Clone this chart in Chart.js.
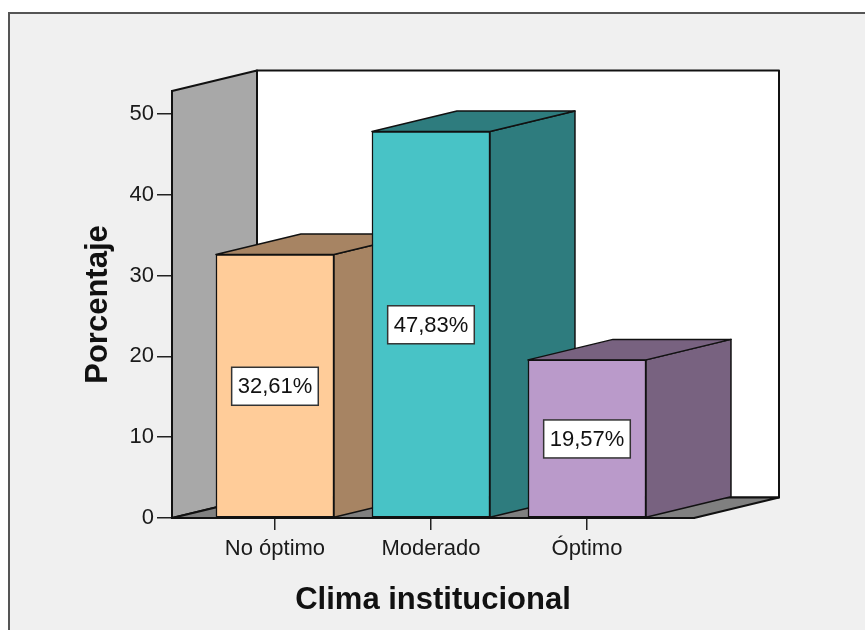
<!DOCTYPE html>
<html>
<head>
<meta charset="utf-8">
<script src="https://cdn.jsdelivr.net/npm/chart.js@4.4.1/dist/chart.umd.min.js"></script>
<style>
  html, body { margin: 0; padding: 0; background: #ffffff; }
  canvas { display: block; }
</style>
</head>
<body>
<canvas id="chart" width="865" height="630"></canvas>
<script>
// Distribución del clima institucional (%)
const categories = ['No óptimo', 'Moderado', 'Óptimo'];
const percentages = [32.61, 47.83, 19.57];
const yTicks = [0, 10, 20, 30, 40, 50];
const frontColors = ['#FFCC99', '#48C3C6', '#BA9ACA'];
const sideColors = ['#A78463', '#2E7C7E', '#786280'];

const FONT = '"Liberation Sans", Arial, Helvetica, sans-serif';
const DEPTH_X = 85;      // oblique depth of the 3D box, horizontal
const DEPTH_Y = -20.5;   // oblique depth of the 3D box, vertical
const EDGE = '#111111';

function poly(ctx, pts, fill) {
  ctx.beginPath();
  ctx.moveTo(pts[0][0], pts[0][1]);
  for (let i = 1; i < pts.length; i++) ctx.lineTo(pts[i][0], pts[i][1]);
  ctx.closePath();
  if (fill) { ctx.fillStyle = fill; ctx.fill(); }
  ctx.stroke();
}

const box3d = {
  id: 'box3d',
  beforeDraw(chart) {
    const ctx = chart.ctx;
    const W = chart.width, H = chart.height;
    ctx.save();
    // page + panel frame
    ctx.fillStyle = '#ffffff';
    ctx.fillRect(0, 0, W, H);
    ctx.fillStyle = '#f0f0f0';
    ctx.fillRect(10, 14, W - 10, H - 14);
    ctx.strokeStyle = '#555555';
    ctx.lineWidth = 2;
    ctx.beginPath();
    ctx.moveTo(9, H);
    ctx.lineTo(9, 13);
    ctx.lineTo(W, 13);
    ctx.stroke();

    // walls and floor of the plot box
    const a = chart.chartArea;
    const L = a.left, R = a.right, T = a.top, B = a.bottom;
    ctx.strokeStyle = EDGE;
    ctx.lineWidth = 2;
    ctx.lineJoin = 'round';
    // back wall
    poly(ctx, [[L + DEPTH_X, T + DEPTH_Y], [R + DEPTH_X, T + DEPTH_Y], [R + DEPTH_X, B + DEPTH_Y], [L + DEPTH_X, B + DEPTH_Y]], '#ffffff');
    // left wall
    poly(ctx, [[L, T], [L + DEPTH_X, T + DEPTH_Y], [L + DEPTH_X, B + DEPTH_Y], [L, B]], '#a8a8a8');
    // floor
    poly(ctx, [[L, B], [L + DEPTH_X, B + DEPTH_Y], [R + DEPTH_X, B + DEPTH_Y], [R, B]], '#808080');
    ctx.restore();
  },
  beforeDatasetsDraw(chart) {
    const ctx = chart.ctx;
    const meta = chart.getDatasetMeta(0);
    ctx.save();
    ctx.strokeStyle = EDGE;
    ctx.lineWidth = 1.5;
    ctx.lineJoin = 'round';
    meta.data.forEach((bar, i) => {
      const p = bar.getProps(['x', 'y', 'base', 'width'], true);
      const xl = p.x - p.width / 2, xr = p.x + p.width / 2;
      const yt = p.y, yb = p.base;
      // right side face
      poly(ctx, [[xr, yt], [xr + DEPTH_X, yt + DEPTH_Y], [xr + DEPTH_X, yb + DEPTH_Y], [xr, yb]], sideColors[i]);
      // top face
      poly(ctx, [[xl, yt], [xl + DEPTH_X, yt + DEPTH_Y], [xr + DEPTH_X, yt + DEPTH_Y], [xr, yt]], sideColors[i]);
    });
    ctx.restore();
  },
  afterDatasetsDraw(chart) {
    const ctx = chart.ctx;
    const meta = chart.getDatasetMeta(0);
    const yScale = chart.scales.y;
    ctx.save();
    ctx.font = '22px ' + FONT;
    ctx.textAlign = 'center';
    ctx.textBaseline = 'middle';
    meta.data.forEach((bar, i) => {
      const v = percentages[i];
      const text = v.toFixed(2).replace('.', ',') + '%';
      const cx = bar.x;
      const cy = yScale.getPixelForValue(v / 2);
      const w = ctx.measureText(text).width + 12;
      const h = 38;
      ctx.fillStyle = '#ffffff';
      ctx.fillRect(cx - w / 2, cy - h / 2, w, h);
      ctx.strokeStyle = '#333333';
      ctx.lineWidth = 1.5;
      ctx.strokeRect(cx - w / 2, cy - h / 2, w, h);
      ctx.fillStyle = '#111111';
      ctx.fillText(text, cx, cy + 1);
    });
    ctx.restore();
  }
};

new Chart(document.getElementById('chart'), {
  type: 'bar',
  data: {
    datasets: [{
      data: categories.map((c, i) => ({ x: i, y: percentages[i] })),
      backgroundColor: frontColors,
      borderColor: EDGE,
      borderWidth: 1.5,
      borderSkipped: false,
      barThickness: 118
    }]
  },
  options: {
    responsive: false,
    animation: false,
    devicePixelRatio: 1,
    layout: { padding: { left: 0, right: 171, top: 91, bottom: 0 } },
    plugins: { legend: { display: false }, tooltip: { enabled: false } },
    scales: {
      x: {
        type: 'linear',
        offset: false,
        min: -0.66,
        max: 2.686,
        afterFit(s) { s.height = 112; },
        afterBuildTicks(s) { s.ticks = categories.map((c, i) => ({ value: i })); },
        ticks: {
          callback: (v) => categories[v],
          font: { family: FONT, size: 22 },
          color: '#1a1a1a',
          padding: 6,
          maxRotation: 0,
          autoSkip: false
        },
        grid: { offset: false, drawOnChartArea: false, drawTicks: true, tickLength: 12, color: '#222222', lineWidth: 1.5 },
        border: { display: true, color: EDGE, width: 2 },
        title: {
          display: true,
          text: 'Clima institucional',
          color: '#111111',
          font: { family: FONT, size: 31, weight: 'bold' },
          padding: { top: 0, bottom: 11 }
        }
      },
      y: {
        min: 0,
        max: 52.85,
        afterFit(s) { s.width = 172; },
        afterBuildTicks(s) { s.ticks = yTicks.map(v => ({ value: v })); },
        ticks: {
          font: { family: FONT, size: 22 },
          color: '#1a1a1a',
          padding: 3
        },
        grid: { drawOnChartArea: false, drawTicks: true, tickLength: 15, color: '#222222', lineWidth: 1.5 },
        border: { display: true, color: EDGE, width: 2 },
        title: {
          display: true,
          text: 'Porcentaje',
          color: '#111111',
          font: { family: FONT, size: 31, weight: 'bold' },
          padding: { top: 80, bottom: 0 }
        }
      }
    }
  },
  plugins: [box3d]
});
</script>
</body>
</html>
